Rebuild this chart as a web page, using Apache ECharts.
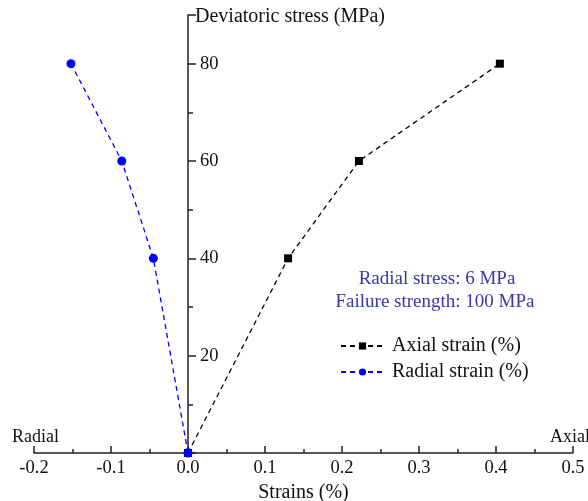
<!DOCTYPE html>
<html>
<head>
<meta charset="utf-8">
<script src="https://cdn.jsdelivr.net/npm/echarts@6/dist/echarts.min.js"></script>
<style>
  html, body { margin: 0; padding: 0; background: #fff; }
  #chart { width: 588px; height: 501px; }
</style>
</head>
<body>
<div id="chart"></div>
<script>
// Deviatoric stress levels (MPa)
const stressLevels = [0, 40, 60, 80];
// Strains (%) measured at each stress level
const axialStrain = [0, 0.130, 0.222, 0.405];
const radialStrain = [0, -0.045, -0.086, -0.152];

const X_MIN = -0.2, X_MAX = 0.5;
const GRID = { left: 34, right: 15, top: 15, bottom: 48 };
const CHART_W = 588;

const FONT = '"Liberation Serif", "Times New Roman", serif';
const AXIS_COLOR = '#222';
const TEXT_COLOR = '#111';
const NOTE_COLOR = '#3838a8';

// the stress axis sits on strain = 0, inside the plot area
const plotW = CHART_W - GRID.left - GRID.right;
const zeroOffset = (0 - X_MIN) / (X_MAX - X_MIN) * plotW;

const chart = echarts.init(document.getElementById('chart'));

chart.setOption({
  animation: false,
  textStyle: { fontFamily: FONT },
  grid: Object.assign({ containLabel: false, outerBoundsMode: 'none' }, GRID),
  xAxis: {
    type: 'value',
    min: X_MIN,
    max: X_MAX,
    interval: 0.1,
    name: 'Strains (%)',
    nameLocation: 'middle',
    nameGap: 28,
    nameTextStyle: { fontFamily: FONT, fontSize: 20, color: TEXT_COLOR },
    axisLine: { onZero: false, lineStyle: { color: AXIS_COLOR, width: 1.5 } },
    axisTick: { inside: true, length: 7, lineStyle: { color: AXIS_COLOR, width: 1.5 } },
    minorTick: { show: true, splitNumber: 2, length: 4, lineStyle: { color: AXIS_COLOR, width: 1.5 } },
    axisLabel: {
      fontFamily: FONT, fontSize: 18.5, color: TEXT_COLOR, margin: 6,
      formatter: v => v.toFixed(1)
    },
    splitLine: { show: false }
  },
  yAxis: {
    type: 'value',
    min: 0,
    max: 90,
    interval: 20,
    position: 'left',
    offset: -zeroOffset,
    name: 'Deviatoric stress (MPa)',
    nameLocation: 'end',
    nameGap: -2,
    nameTextStyle: {
      fontFamily: FONT, fontSize: 20, color: TEXT_COLOR,
      align: 'left', verticalAlign: 'middle', padding: [0, 0, 0, 7]
    },
    axisLine: { onZero: false, lineStyle: { color: AXIS_COLOR, width: 1.5 } },
    axisTick: { inside: true, length: 8, lineStyle: { color: AXIS_COLOR, width: 1.5 } },
    minorTick: { show: true, splitNumber: 2, length: 5, lineStyle: { color: AXIS_COLOR, width: 1.5 } },
    axisLabel: {
      inside: true, fontFamily: FONT, fontSize: 18.5, color: TEXT_COLOR, margin: 12,
      formatter: v => (v === 0 || v === 90 ? '' : String(v))
    },
    splitLine: { show: false }
  },
  legend: {
    left: 335,
    top: 331,
    orient: 'vertical',
    itemWidth: 43,
    itemHeight: 9,
    itemGap: 6,
    textStyle: { fontFamily: FONT, fontSize: 20, color: TEXT_COLOR, padding: [0, 0, 0, 3] },
    data: ['Axial strain (%)', 'Radial strain (%)']
  },
  graphic: [
    { type: 'text', left: 12, top: 428, style: { text: 'Radial', font: '18px ' + FONT, fill: TEXT_COLOR } },
    { type: 'text', left: 550, top: 428, style: { text: 'Axial', font: '18px ' + FONT, fill: TEXT_COLOR } },
    { type: 'text', x: 437, y: 279, style: { text: 'Radial stress: 6 MPa', font: '19px ' + FONT, fill: NOTE_COLOR, align: 'center', verticalAlign: 'middle' } },
    { type: 'text', x: 435, y: 302, style: { text: 'Failure strength: 100 MPa', font: '19px ' + FONT, fill: NOTE_COLOR, align: 'center', verticalAlign: 'middle' } }
  ],
  series: [
    {
      name: 'Axial strain (%)',
      type: 'line',
      data: axialStrain.map((x, i) => [x, stressLevels[i]]),
      symbol: 'rect',
      symbolSize: 8,
      itemStyle: { color: '#000' },
      lineStyle: { color: '#000', width: 1.3, type: [5, 4] },
      z: 2
    },
    {
      name: 'Radial strain (%)',
      type: 'line',
      data: radialStrain.map((x, i) => [x, stressLevels[i]]),
      symbol: 'circle',
      symbolSize: 9,
      itemStyle: { color: '#0000ff' },
      lineStyle: { color: '#0000ff', width: 1.3, type: [5, 4] },
      z: 3
    }
  ]
});
</script>
</body>
</html>
